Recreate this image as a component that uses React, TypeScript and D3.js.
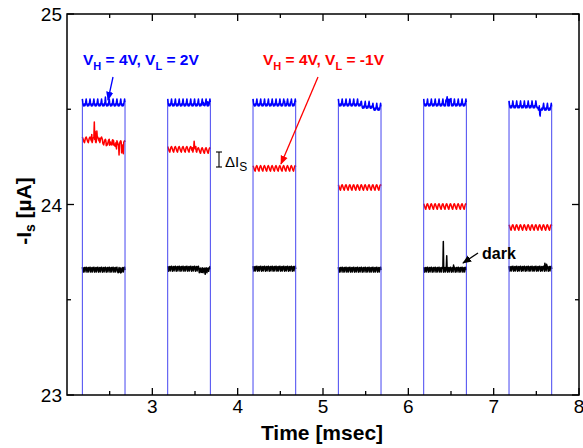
import React from "react";
import * as d3 from "d3";

// Pulse timing (ms)
const pulseStart = [2.18, 3.18, 4.18, 5.18, 6.18, 7.18];
const pulseWidth = 0.5;
const sampleStep = 0.005;

// Plateau levels of -Is (µA) for each pulse
const blueLevel = [24.53, 24.53, 24.53, 24.53, 24.53, 24.52];
const redLevel = [24.34, 24.29, 24.19, 24.09, 23.99, 23.88];
const darkLevel = [23.66, 23.665, 23.665, 23.66, 23.66, 23.665];

// One ~0.045 ms ripple cycle (µA offsets)
const blueRipple = [0.024, 0.006, -0.008, -0.013, -0.01, -0.002, -0.012, -0.006, 0.01];
const redRipple = [0.014, 0.008, 0.001, -0.006, -0.012, -0.015, -0.004, 0.006, 0.012];
const darkRipple = [0.011, -0.004, -0.015, 0.007, -0.002, 0.009, -0.014, 0.002, 0.007];

// Local features: [pulse, time (ms), offset (µA)]
const blueSpikes: [number, number, number][] = [
  [0, 2.45, 0.01], [1, 3.6, 0.018], [1, 3.65, 0.02], [2, 4.55, 0.02], [2, 4.62, 0.015],
  [4, 6.44, 0.025], [4, 6.455, 0.03], [4, 6.47, 0.032], [4, 6.485, 0.028], [4, 6.5, 0.02],
  [5, 7.54, -0.06], [5, 7.545, -0.05],
];
const blueSteps: [number, number, number][] = [
  [3, 5.45, -0.012], [3, 5.58, -0.01], [5, 7.52, -0.012],
];
const redSpikes: [number, number, number][] = [
  [0, 2.29, 0.04], [0, 2.32, 0.085], [0, 2.33, 0.05], [0, 2.35, 0.04], [0, 2.38, 0.02],
  [0, 2.46, -0.02], [0, 2.5, -0.025], [0, 2.54, -0.03], [0, 2.58, -0.04],
  [0, 2.61, -0.045], [0, 2.64, -0.05], [0, 2.66, -0.05],
  [1, 3.47, 0.02], [1, 3.49, 0.03], [1, 3.51, 0.02],
];
const redSteps: [number, number, number][] = [
  [0, 2.42, -0.012], [0, 2.55, -0.008], [1, 3.53, -0.006],
];
const darkSpikes: [number, number, number][] = [
  [0, 2.6, -0.025], [0, 2.63, -0.03], [1, 3.58, -0.02], [1, 3.62, -0.025],
  [4, 6.41, 0.15], [4, 6.45, 0.06], [4, 6.53, 0.02], [5, 7.6, 0.02], [5, 7.62, 0.02],
];
const darkSteps: [number, number, number][] = [
  [1, 3.55, -0.008], [1, 3.66, 0.006],
];

const xTicks = [3, 4, 5, 6, 7, 8];
const yTicks = [23, 24, 25];

const W = 583;
const H = 448;
const margin = { left: 67, right: 4, top: 14, bottom: 53 };

function plateau(
  p: number,
  level: number[],
  ripple: number[],
  spikes: [number, number, number][],
  steps: [number, number, number][]
): [number, number][] {
  const n = Math.round(pulseWidth / sampleStep);
  const t0 = pulseStart[p];
  const pts: [number, number][] = [];
  for (let i = 0; i <= n; i++) {
    const t = t0 + i * sampleStep;
    let v = level[p] + ripple[i % ripple.length];
    for (const [sp, st, dv] of steps) if (sp === p && t >= st - 1e-9) v += dv;
    for (const [sp, st, dv] of spikes)
      if (sp === p && Math.round((st - t0) / sampleStep) === i) v += dv;
    pts.push([t, v]);
  }
  return pts;
}

export default function App() {
  const x = d3.scaleLinear().domain([2, 8]).range([margin.left, W - margin.right]);
  const y = d3.scaleLinear().domain([23, 25]).range([H - margin.bottom, margin.top]);
  const line = d3
    .line<[number, number]>()
    .x((d) => x(d[0]))
    .y((d) => y(d[1]));

  const bluePlateaus = pulseStart.map((_, p) => plateau(p, blueLevel, blueRipple, blueSpikes, blueSteps));
  const blueEdges = pulseStart.map((t0, p) => {
    const pts = bluePlateaus[p];
    return line([[t0, 22], pts[0]]) + " " + line([pts[pts.length - 1], [t0 + pulseWidth, 22]]);
  });

  const redPaths = pulseStart.map((_, p) => line(plateau(p, redLevel, redRipple, redSpikes, redSteps)));
  const darkPaths = pulseStart.map((_, p) => line(plateau(p, darkLevel, darkRipple, darkSpikes, darkSteps)));

  const x0 = margin.left;
  const x1 = W - margin.right;
  const y0 = H - margin.bottom;
  const y1 = margin.top;
  const minorX = d3.range(2.5, 8, 0.5).filter((v) => !xTicks.includes(v));
  const minorY = [23.5, 24.5];
  const font = "Liberation Sans, Arial, sans-serif";

  return (
    <svg width={W} height={H} style={{ position: "absolute", left: 0, top: 0, background: "#fff" }} fontFamily={font}>
      <defs>
        <clipPath id="plot">
          <rect x={x0} y={y1} width={x1 - x0} height={y0 - y1} />
        </clipPath>
        <marker id="ab" viewBox="0 0 10 10" refX="9" refY="5" markerWidth="7" markerHeight="7" orient="auto">
          <path d="M0,1 L10,5 L0,9 Z" fill="#0000ff" />
        </marker>
        <marker id="ar" viewBox="0 0 10 10" refX="9" refY="5" markerWidth="7" markerHeight="7" orient="auto">
          <path d="M0,1 L10,5 L0,9 Z" fill="#ff0000" />
        </marker>
        <marker id="ak" viewBox="0 0 10 10" refX="9" refY="5" markerWidth="7" markerHeight="7" orient="auto">
          <path d="M0,1 L10,5 L0,9 Z" fill="#000" />
        </marker>
      </defs>

      <g clipPath="url(#plot)" fill="none" strokeLinejoin="round">
        {darkPaths.map((d, i) => (
          <path key={"k" + i} d={d || ""} stroke="#000" strokeWidth={1.5} />
        ))}
        {redPaths.map((d, i) => (
          <path key={"r" + i} d={d || ""} stroke="#ff0000" strokeWidth={1.5} />
        ))}
        {blueEdges.map((d, i) => (
          <path key={"be" + i} d={d} stroke="#4646f0" strokeWidth={1} />
        ))}
        {bluePlateaus.map((pts, i) => (
          <path key={"bp" + i} d={line(pts) || ""} stroke="#0000ff" strokeWidth={1.5} />
        ))}
      </g>

      {/* frame and ticks */}
      <rect x={x0} y={y1} width={x1 - x0} height={y0 - y1} fill="none" stroke="#000" strokeWidth={1.5} />
      {xTicks.map((t) => (
        <g key={"xt" + t}>
          <line x1={x(t)} x2={x(t)} y1={y0} y2={y0 - 7} stroke="#000" strokeWidth={1.3} />
          <line x1={x(t)} x2={x(t)} y1={y1} y2={y1 + 7} stroke="#000" strokeWidth={1.3} />
          <text x={x(t)} y={413} fontSize={19} textAnchor="middle">{t}</text>
        </g>
      ))}
      {minorX.map((t) => (
        <g key={"xm" + t}>
          <line x1={x(t)} x2={x(t)} y1={y0} y2={y0 - 4} stroke="#000" strokeWidth={1.3} />
          <line x1={x(t)} x2={x(t)} y1={y1} y2={y1 + 4} stroke="#000" strokeWidth={1.3} />
        </g>
      ))}
      {yTicks.map((t) => (
        <g key={"yt" + t}>
          <line x1={x0} x2={x0 + 7} y1={y(t)} y2={y(t)} stroke="#000" strokeWidth={1.3} />
          <line x1={x1} x2={x1 - 7} y1={y(t)} y2={y(t)} stroke="#000" strokeWidth={1.3} />
          <text x={62} y={y(t) + 7} fontSize={19} textAnchor="end">{t}</text>
        </g>
      ))}
      {minorY.map((t) => (
        <g key={"ym" + t}>
          <line x1={x0} x2={x0 + 4} y1={y(t)} y2={y(t)} stroke="#000" strokeWidth={1.3} />
          <line x1={x1} x2={x1 - 4} y1={y(t)} y2={y(t)} stroke="#000" strokeWidth={1.3} />
        </g>
      ))}

      {/* axis titles */}
      <text x={322} y={440} fontSize={21} fontWeight="bold" textAnchor="middle">Time [msec]</text>
      <text transform="translate(31,211) rotate(-90)" fontSize={21} fontWeight="bold" textAnchor="middle">
        -I<tspan dy={4} fontSize={14}>s</tspan>
        <tspan dy={-4}> [µA]</tspan>
      </text>

      {/* annotations */}
      <text x={83} y={65} fontSize={15.5} fontWeight="bold" fill="#0000ff">
        V<tspan dy={5} fontSize={11}>H</tspan>
        <tspan dy={-5}> = 4V, V</tspan>
        <tspan dy={5} fontSize={11}>L</tspan>
        <tspan dy={-5}> = 2V</tspan>
      </text>
      <line x1={113} y1={77} x2={108} y2={100} stroke="#0000ff" strokeWidth={1.3} markerEnd="url(#ab)" />

      <text x={263} y={65} fontSize={15.5} fontWeight="bold" fill="#ff0000">
        V<tspan dy={5} fontSize={11}>H</tspan>
        <tspan dy={-5}> = 4V, V</tspan>
        <tspan dy={5} fontSize={11}>L</tspan>
        <tspan dy={-5}> = -1V</tspan>
      </text>
      <line x1={318} y1={77} x2={281} y2={164} stroke="#ff0000" strokeWidth={1.3} markerEnd="url(#ar)" />

      <g stroke="#000" strokeWidth={1.1}>
        <line x1={219} x2={219} y1={152} y2={167} />
        <line x1={216} x2={222} y1={152} y2={152} />
        <line x1={216} x2={222} y1={167} y2={167} />
      </g>
      <text x={225} y={167} fontSize={15}>
        ΔI<tspan dy={4} fontSize={12}>S</tspan>
      </text>

      <text x={482} y={259} fontSize={16} fontWeight="bold">dark</text>
      <line x1={478} y1={253} x2={463} y2={263} stroke="#000" strokeWidth={1.3} markerEnd="url(#ak)" />
    </svg>
  );
}
